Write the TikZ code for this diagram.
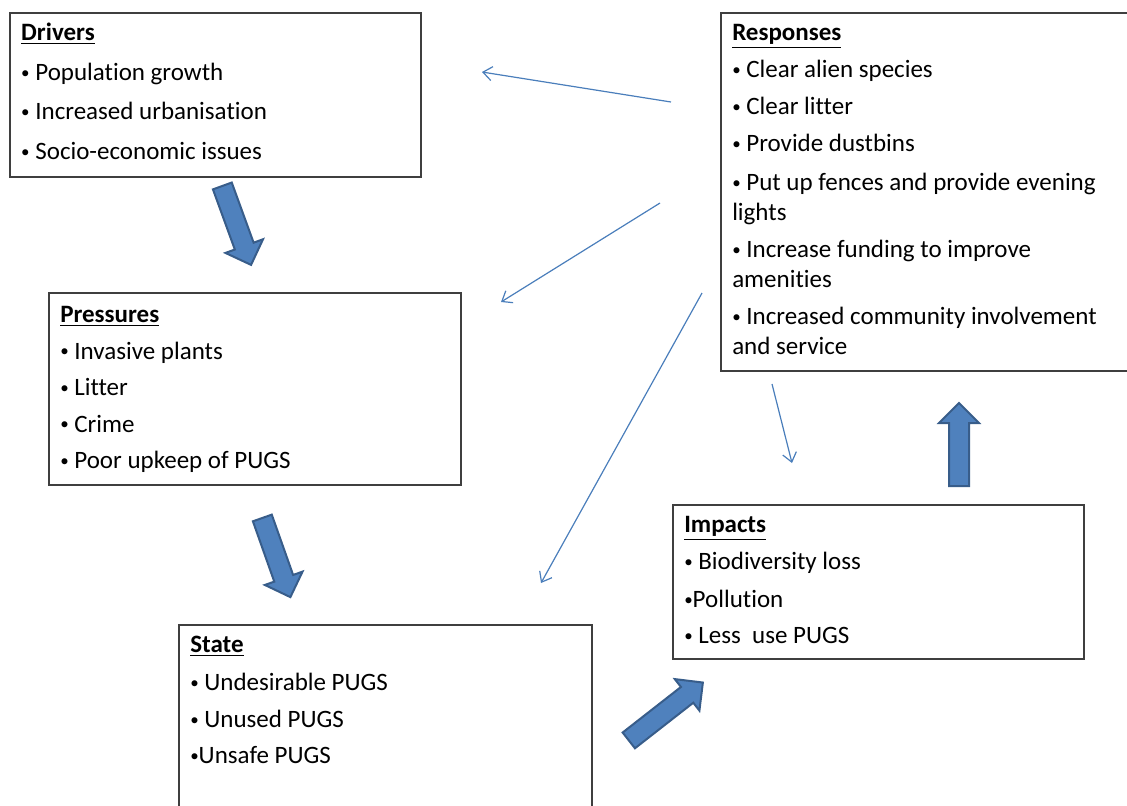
\documentclass[tikz,border=0pt]{standalone}
\usepackage{fontspec}
\setmainfont{Carlito}[Ligatures=NoCommon]
\usetikzlibrary{positioning, arrows.meta, shapes.arrows}
\definecolor{dpsirblue}{HTML}{4F81BD}
\definecolor{dpsiredge}{HTML}{385D8A}
\definecolor{dpsirline}{HTML}{4A7EBB}
\definecolor{dpsirframe}{HTML}{3F3F3F}
\newcommand{\itembul}{\raisebox{1.3pt}{\fontsize{8.5}{8.5}\selectfont•}}

\begin{document}
\begin{tikzpicture}[x=0.5pt, y=-0.5pt,
        panel/.style={draw=dpsirframe, line width=0.75pt, fill=white, anchor=north west, inner xsep=5.75pt, inner ysep=0pt, font=\fontsize{12.5}{15}\selectfont},
        block/.style={single arrow, draw=dpsiredge, fill=dpsirblue, line width=1pt, minimum width=19pt, single arrow head extend=5pt, inner xsep=0pt, inner ysep=4.5pt, anchor=tail},
        link/.style={-{Straight Barb[length=4.5pt, width=7pt]}, dpsirline, line width=0.6pt}
    ]
    \clip (0,0) rectangle (1127,805);

    % Drivers
    \node[panel] (drv) at (9,12) {\parbox[t][82pt][t]{194pt}{\rule{0pt}{14pt}\underline{\textbf{Drivers}}\\[5pt]
        \itembul{} Population growth\\[4.5pt]
        \itembul{} Increased urbanisation\\[5pt]
        \itembul{} Socio-economic issues}};

    % Pressures
    \node[panel] (prs) at (48,292) {\parbox[t][96pt][t]{194.5pt}{\rule{0pt}{15pt}\underline{\textbf{Pressures}}\\[3.25pt]
        \itembul{} Invasive plants\\[3.25pt]
        \itembul{} Litter\\[3.25pt]
        \itembul{} Crime\\[3.25pt]
        \itembul{} Poor upkeep of PUGS}};

    % State
    \node[panel] (sta) at (178,624) {\parbox[t][100pt][t]{195pt}{\rule{0pt}{14pt}\underline{\textbf{State}}\\[4pt]
        \itembul{} Undesirable PUGS\\[3.5pt]
        \itembul{} Unused PUGS\\[3pt]
        \itembul{}Unsafe PUGS}};

    % Impacts
    \node[panel] (imp) at (672,504) {\parbox[t][77pt][t]{194pt}{\rule{0pt}{14pt}\underline{\textbf{Impacts}}\\[3.5pt]
        \itembul{} Biodiversity loss\\[4pt]
        \itembul{}Pollution\\[3pt]
        \itembul{} Less\ \ use PUGS}};

    % Responses
    \node[panel] (rsp) at (720,12) {\parbox[t][179pt][t]{198pt}{\rule{0pt}{14pt}\underline{\textbf{Responses}}\\[3.5pt]
        \itembul{} Clear alien species\\[3.5pt]
        \itembul{} Clear litter\\[3.5pt]
        \itembul{} Provide dustbins\\[4.5pt]
        \itembul{} Put up fences and provide evening\\
        lights\\[3.5pt]
        \itembul{} Increase funding to improve\\
        amenities\\[3.5pt]
        \itembul{} Increased community involvement\\
        and service}};

    % main cycle
    \coordinate (cyc1) at (222,185);
    \coordinate (cyc2) at (262,517);
    \coordinate (cyc3) at (628,741);
    \coordinate (cyc4) at (959,487);
    \node[block, rotate=-70, minimum height=42pt] (d2p) at (cyc1) {};
    \node[block, rotate=-70.5, minimum height=42pt] (p2s) at (cyc2) {};
    \node[block, rotate=38, minimum height=47pt] (s2i) at (cyc3) {};
    \node[block, rotate=90, minimum height=41.5pt] (i2r) at (cyc4) {};

    % feedback from responses
    \coordinate (fb1) at (671,102);
    \coordinate (fb2) at (660,203);
    \coordinate (fb3) at (702,293);
    \coordinate (fb4) at (772,384);
    \coordinate (to1) at (482,72);
    \coordinate (to2) at (501,302);
    \coordinate (to3) at (541,583);
    \coordinate (to4) at (792,463);
    \draw[link] (fb1) -- (to1);
    \draw[link] (fb2) -- (to2);
    \draw[link] (fb3) -- (to3);
    \draw[link] (fb4) -- (to4);
\end{tikzpicture}
\end{document}
